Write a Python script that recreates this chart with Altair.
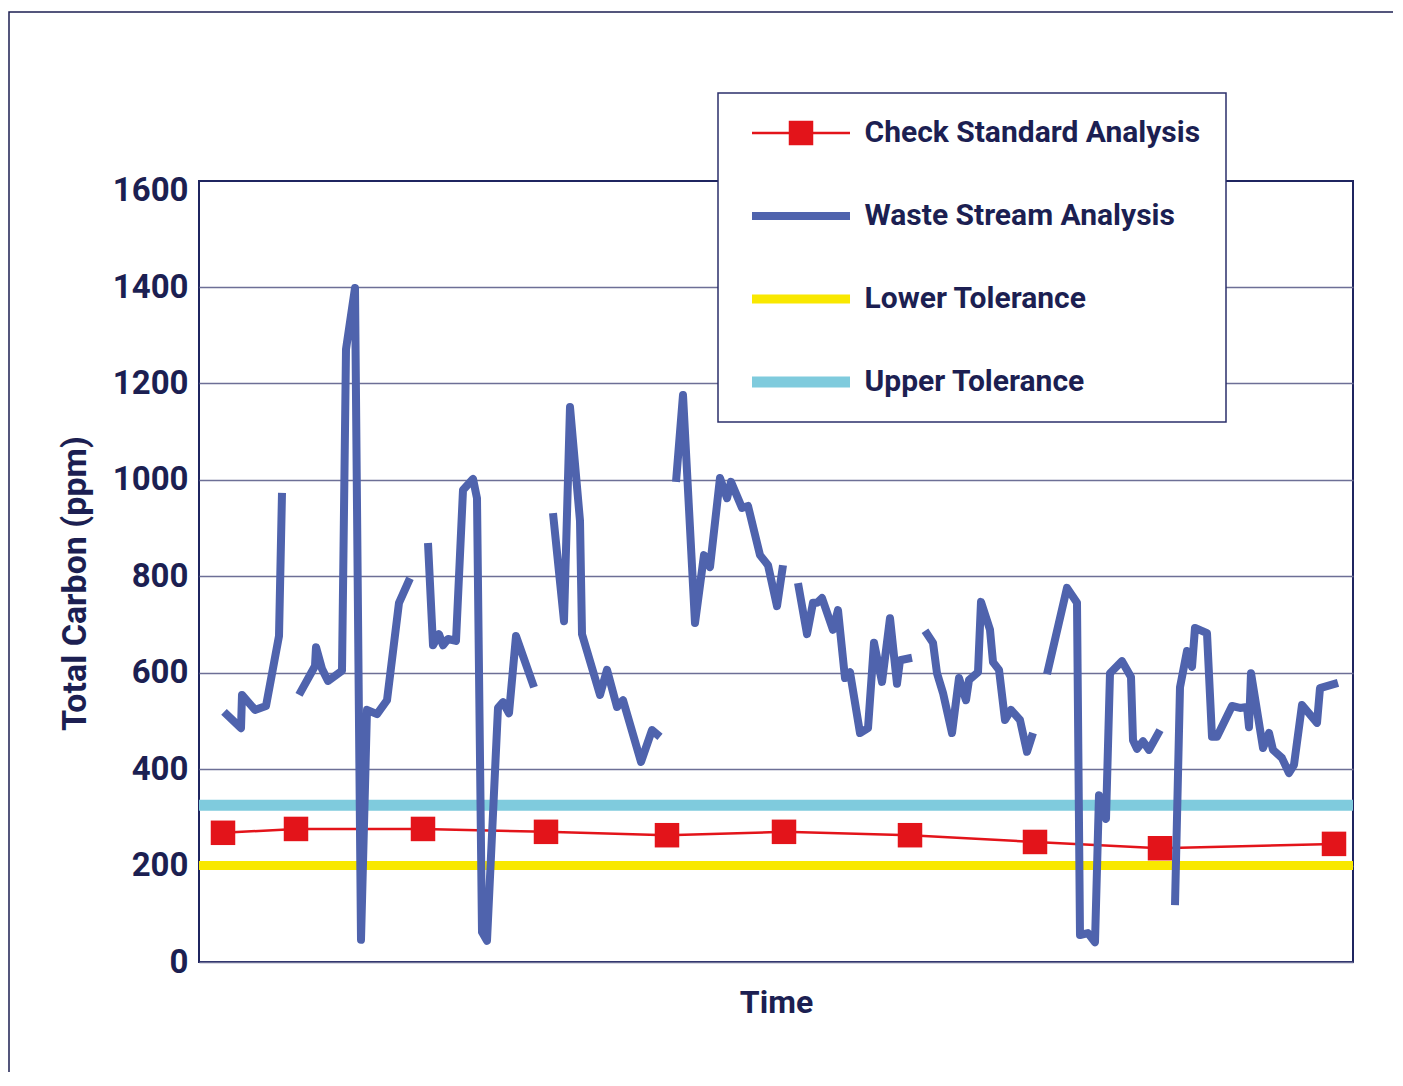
import altair as alt
import pandas as pd

# ---------------- data ----------------
series_names = ["Check Standard Analysis", "Waste Stream Analysis",
                "Lower Tolerance", "Upper Tolerance"]
series_colors = ["#e3141a", "#4f63ad", "#f9e800", "#7fcbdd"]
series_widths = [2.5, 8, 9, 11]

y_ticks = [0, 200, 400, 600, 800, 1000, 1200, 1400, 1600]

# check standard analysis (time index, ppm)
check_t = [24, 97, 224, 347, 468, 585, 711, 836, 961, 1135]
check_v = [268, 276, 276, 270, 263, 270, 263, 249, 236, 245]

# tolerance levels (ppm)
tol_names = ["Lower Tolerance", "Upper Tolerance"]
tol_v = [200, 325]

# waste stream analysis: time index, ppm, run id (gaps between runs)
waste_t = [25, 42, 43, 56, 67, 80, 83,
           100, 116, 117, 123, 129, 143, 147, 156, 162, 168, 178, 188, 200, 211,
           229, 234, 240, 244, 249, 257, 264, 274, 278, 283, 288, 299, 304, 310, 317, 335,
           354, 365, 371, 381, 383, 401, 408, 418, 424, 442, 453, 461,
           477, 484, 496, 505, 511, 521, 528, 532, 543, 549, 561, 569, 578, 584,
           599, 608, 614, 618, 623, 634, 639, 646, 651, 661, 669, 675, 683, 691, 698, 701, 713,
           726, 734, 738, 744, 753, 760, 767, 770, 779, 782, 791, 794, 800, 806, 812, 821, 828, 834,
           848, 868, 878, 881, 889, 896, 900, 907, 911, 923, 932, 934, 938, 944, 950, 961,
           976, 981, 988, 993, 996, 1008, 1013, 1018, 1033, 1041, 1048, 1050, 1052, 1064, 1070,
           1074, 1083, 1090, 1095, 1103, 1118, 1121, 1139]
waste_v = [519, 485, 554, 523, 531, 676, 973,
           554, 614, 653, 608, 583, 604, 1271, 1398, 46, 523, 514, 543, 745, 796,
           869, 657, 680, 657, 670, 666, 979, 1002, 962, 62, 44, 527, 539, 516, 676, 570,
           931, 707, 1151, 915, 680, 554, 606, 529, 543, 415, 481, 467,
           996, 1176, 703, 844, 819, 1004, 962, 996, 942, 946, 844, 823, 738, 823,
           786, 680, 745, 745, 755, 689, 730, 589, 601, 475, 485, 662, 581, 713, 577, 626, 631,
           687, 662, 599, 558, 475, 589, 543, 585, 601, 747, 689, 622, 606, 502, 523, 502, 436, 475,
           597, 776, 745, 56, 60, 41, 346, 297, 599, 624, 591, 460, 442, 458, 440, 481,
           118, 570, 645, 612, 693, 682, 467, 467, 531, 527, 529, 487, 599, 444, 475,
           440, 423, 392, 409, 533, 496, 568, 579]
waste_seg = ([1] * 7 + [2] * 14 + [3] * 16 + [4] * 12 + [5] * 14 + [6] * 17 +
             [7] * 18 + [8] * 16 + [9] * 23)

check_df = pd.DataFrame({"t": check_t, "v": check_v, "series": series_names[0]})
waste_df = pd.DataFrame({"t": waste_t, "v": waste_v, "seg": waste_seg,
                         "series": series_names[1]})
tol_df = pd.DataFrame({"v": tol_v, "series": tol_names})
frame_df = pd.DataFrame({"a": [0]})

# ---------------- style ----------------
NAVY = "#1c1f52"
RED = "#e3141a"
FONT = "Roboto"

X = alt.X("t:Q", scale=alt.Scale(domain=[0, 1154], nice=False, zero=False),
          axis=alt.Axis(title="Time", labels=False, ticks=False, domain=False, grid=False,
                        titleFont=FONT, titleFontSize=32, titleFontWeight="bold",
                        titleColor=NAVY, titlePadding=25))
Y = alt.Y("v:Q", scale=alt.Scale(domain=[0, 1620], nice=False, zero=False),
          axis=alt.Axis(values=y_ticks, format="d", title="Total Carbon (ppm)",
                        titleFont=FONT, titleFontSize=34, titleFontWeight="bold",
                        titleColor=NAVY, titleX=-114, titleY=402,
                        titleBaseline="alphabetic",
                        labelFont=FONT, labelFontSize=33, labelFontWeight="bold",
                        labelColor=NAVY, labelPadding=11,
                        ticks=False, domain=False, grid=True,
                        gridColor="#6d6f96", gridWidth=1.5,
                        gridOpacity={"condition": {"test": "datum.value >= 1600", "value": 0},
                                     "value": 1}))

color = alt.Color("series:N",
                  scale=alt.Scale(domain=series_names, range=series_colors),
                  legend=alt.Legend(title=None, orient="none", legendX=519, legendY=-88,
                                    direction="vertical", symbolType="stroke",
                                    symbolSize=9604, clipHeight=30, rowPadding=53,
                                    padding=25, symbolOffset=3.5, labelOffset=9,
                                    labelFont=FONT, labelFontSize=30,
                                    labelFontWeight="bold", labelColor=NAVY,
                                    labelLimit=600, fillColor="white",
                                    strokeColor="#2b2f6b", zindex=1))
sw = alt.StrokeWidth("series:N",
                     scale=alt.Scale(type="ordinal", domain=series_names,
                                     range=series_widths))

shape = alt.Shape("series:N",
                  scale=alt.Scale(domain=[series_names[0]], range=["square"]),
                  legend=alt.Legend(title=None, orient="none", legendX=589, legendY=-63,
                                    symbolType="square", symbolSize=600, clipHeight=30,
                                    padding=0, labelExpr="''", labelFontSize=1,
                                    symbolFillColor=RED, symbolStrokeColor=RED,
                                    symbolOpacity=1, zindex=2))

tol = alt.Chart(tol_df).mark_rule().encode(y=Y, color=color, strokeWidth=sw)
check_line = alt.Chart(check_df).mark_line().encode(x=X, y=Y, color=color, strokeWidth=sw)
check_pts = alt.Chart(check_df).mark_point(filled=True, size=600, color=RED,
                                           opacity=1).encode(x=X, y=Y, shape=shape)
waste = alt.Chart(waste_df).mark_line(strokeJoin="round", strokeCap="butt").encode(
    x=X, y=Y, detail="seg:N", color=color, strokeWidth=sw)
frame = alt.Chart(frame_df).mark_rect(filled=False, stroke=NAVY, strokeWidth=1.5).encode(
    x=alt.value(-190), x2=alt.value(1300), y=alt.value(-169), y2=alt.value(1000))

chart = alt.layer(tol, check_line, check_pts, waste, frame).properties(
    width=1154, height=781,
    autosize=alt.AutoSizeParams(type="none"),
    padding={"left": 191, "top": 173, "right": 40, "bottom": 110},
    background="white",
).configure_view(stroke="#1f2560", strokeWidth=2).configure_legend(strokeWidth=1.5)

chart.save("out.html", embed_options={"renderer": "svg", "actions": False})
